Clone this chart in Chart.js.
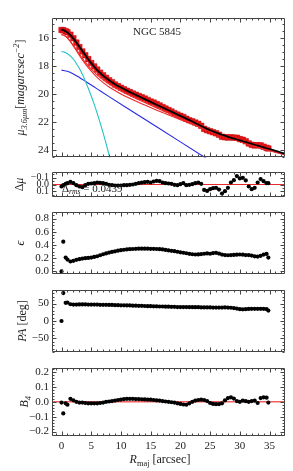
<!DOCTYPE html>
<html>
<head>
<meta charset="utf-8">
<script src="https://cdn.jsdelivr.net/npm/chart.js@4.4.0/dist/chart.umd.min.js"></script>
<style>
  html, body { margin: 0; padding: 0; background: #fff; }
  #wrap { position: relative; width: 293px; height: 471px; overflow: hidden; }
  canvas { position: absolute; left: 0; }
</style>
</head>
<body>
<div id="wrap">
  <canvas id="pMu"></canvas>
  <canvas id="pDmu"></canvas>
  <canvas id="pEll"></canvas>
  <canvas id="pPa"></canvas>
  <canvas id="pB4"></canvas>
</div>
<script>
// isophote radii (arcsec), shared by every panel
const R = [
  0, 0.3, 0.7, 1.0, 1.5, 2.0, 2.5, 3.0, 3.5, 4.0,
  4.5, 5.0, 5.5, 6.0, 6.5, 7.0, 7.5, 8.0, 8.5, 9.0,
  9.5, 10.0, 10.5, 11.0, 11.5, 12.0, 12.5, 13.0, 13.5, 14.0,
  14.5, 15.0, 15.5, 16.0, 16.5, 17.0, 17.5, 18.0, 18.5, 19.0,
  19.5, 20.0, 20.5, 21.0, 21.5, 22.0, 22.5, 23.0, 23.5, 24.0,
  24.5, 25.0, 25.5, 26.0, 26.5, 27.0, 27.5, 28.0, 28.5, 29.0,
  29.5, 30.0, 30.5, 31.0, 31.5, 32.0, 32.5, 33.0, 33.5, 34.0,
  34.5, 34.8
];
// observed surface brightness
const muData = [
  15.41, 15.42, 15.49, 15.56, 15.74, 16.00, 16.31, 16.63, 16.94, 17.21,
  17.49, 17.77, 18.01, 18.24, 18.46, 18.65, 18.83, 19.00, 19.15, 19.30,
  19.42, 19.54, 19.64, 19.75, 19.85, 19.95, 20.04, 20.13, 20.22, 20.31,
  20.41, 20.52, 20.60, 20.70, 20.80, 20.92, 21.03, 21.13, 21.24, 21.36,
  21.46, 21.55, 21.63, 21.76, 21.86, 21.94, 22.03, 22.12, 22.26, 22.48,
  22.58, 22.65, 22.72, 22.80, 22.90, 23.04, 23.08, 23.10, 23.08, 23.11,
  23.11, 23.21, 23.26, 23.37, 23.52, 23.62, 23.66, 23.65, 23.66, 23.75,
  23.84, 23.88
];
// residuals
const dMu = [
  0.03, 0.01, -0.01, -0.02, -0.04, -0.02, 0.01, 0.03, 0.04, 0.01,
  -0.01, -0.015, -0.02, -0.03, -0.025, -0.02, -0.01, 0.005, 0.01, 0.015,
  0.015, 0.015, 0.01, 0.01, 0.005, 0.0, -0.01, -0.02, -0.03, -0.035,
  -0.04, -0.03, -0.045, -0.055, -0.05, -0.03, -0.02, -0.015, -0.01, 0.005,
  0.01, -0.005, -0.02, 0.01, 0.005, -0.005, -0.02, -0.03, -0.01, 0.08,
  0.095, 0.07, 0.055, 0.05, 0.075, 0.135, 0.1, 0.05, -0.03, -0.065,
  -0.125, -0.09, -0.1, -0.06, 0.03, 0.07, 0.05, -0.03, -0.08, -0.05,
  -0.02, -0.02
];
// ellipticity
const ell = [
  0.0, 0.45, 0.21, 0.18, 0.15, 0.16, 0.175, 0.185, 0.195, 0.2,
  0.205, 0.21, 0.22, 0.23, 0.245, 0.26, 0.272, 0.285, 0.295, 0.305,
  0.315, 0.322, 0.328, 0.333, 0.337, 0.34, 0.342, 0.344, 0.345, 0.345,
  0.344, 0.343, 0.342, 0.34, 0.337, 0.333, 0.326, 0.318, 0.312, 0.306,
  0.298, 0.29, 0.283, 0.275, 0.266, 0.26, 0.256, 0.258, 0.263, 0.268,
  0.272, 0.268, 0.278, 0.282, 0.27, 0.255, 0.247, 0.245, 0.248, 0.25,
  0.253, 0.256, 0.254, 0.248, 0.248, 0.24, 0.228, 0.225, 0.236, 0.255,
  0.265, 0.21
];
// position angle (deg)
const pa = [
  0, 80, 52, 53, 48, 47, 47, 47.5, 47.5, 47.5,
  47, 47, 47, 47, 46.5, 46.5, 46.5, 46, 46, 45.5,
  45.5, 45, 45, 44.5, 44.5, 44, 44, 43.5, 43.5, 43,
  42.5, 42.5, 42, 42, 41.5, 41.5, 41, 41, 40.5, 40.5,
  40, 40, 40, 40, 39.5, 39.5, 39.5, 39.5, 39, 39,
  39, 39, 38.5, 38.5, 38.5, 38.5, 39, 38.5, 38, 37,
  35.5, 34, 33.5, 34, 34.5, 35, 35, 35, 35, 35,
  34, 30
];
// fourth harmonic B4
const b4 = [
  -0.005, -0.078, -0.01, -0.02, 0.02, 0.01, 0.0, -0.005, -0.005, -0.008,
  -0.01, -0.01, -0.01, -0.01, -0.008, -0.005, 0.0, 0.002, 0.005, 0.008,
  0.012, 0.015, 0.018, 0.02, 0.02, 0.02, 0.018, 0.018, 0.017, 0.016,
  0.015, 0.014, 0.012, 0.01, 0.008, 0.005, 0.002, 0.0, -0.003, -0.005,
  -0.01, -0.014, -0.018, -0.02, -0.01, 0.0, 0.008, 0.012, 0.014, 0.012,
  0.005, -0.008, -0.014, -0.016, -0.015, -0.01, 0.01, 0.025, 0.03, 0.022,
  0.005, 0.0, 0.008, 0.004, 0.0, 0.005, 0.008, -0.008, 0.025, 0.03,
  0.028, -0.005
];

// total model (black)
const modelR  = [0, 0.5, 1, 1.5, 2, 2.5, 3, 3.5, 4, 4.5, 5, 5.5, 6, 6.5, 7, 7.5, 8, 9, 10, 11,
                 12, 13, 14, 15, 16, 17, 18, 19, 20, 21, 22, 23, 24, 25, 26, 27, 28, 29, 30, 31,
                 32, 33, 34, 35, 36, 37, 37.6];
const modelMu = [15.38, 15.45, 15.58, 15.78, 16.02, 16.30, 16.60, 16.90, 17.20, 17.50,
                 17.78, 18.03, 18.27, 18.48, 18.67, 18.84, 19.00, 19.28, 19.52, 19.74,
                 19.95, 20.15, 20.35, 20.55, 20.75, 20.95, 21.15, 21.35, 21.55, 21.75,
                 21.95, 22.17, 22.38, 22.58, 22.75, 22.90, 23.05, 23.18, 23.30, 23.43,
                 23.55, 23.68, 23.80, 23.93, 24.05, 24.18, 24.26];
// red model curves
const redR   = [0, 0.5, 1, 1.5, 2, 3, 4, 5, 6, 7, 8, 10, 12, 14, 16, 18, 20, 22, 24, 26, 28, 30, 32, 34, 36, 37.6];
const red1Mu = [15.72, 15.80, 15.97, 16.22, 16.50, 17.12, 17.70, 18.20, 18.62, 18.97, 19.27, 19.77, 20.20,
                20.60, 20.98, 21.35, 21.72, 22.07, 22.42, 22.75, 23.07, 23.37, 23.65, 23.90, 24.14, 24.32];
const red2Mu = [15.72, 15.80, 15.98, 16.25, 16.56, 17.22, 17.83, 18.35, 18.80, 19.17, 19.48, 19.98, 20.40,
                20.78, 21.14, 21.48, 21.82, 22.15, 22.48, 22.80, 23.10, 23.39, 23.66, 23.92, 24.16, 24.34];
// bulge (cyan) and disc (blue)
const cyanR  = [0, 0.5, 1, 1.5, 2, 2.5, 3, 3.5, 4, 4.5, 5, 5.5, 6, 6.5, 7, 7.5, 8, 8.5];
const cyanMu = [16.95, 16.99, 17.10, 17.27, 17.50, 17.80, 18.15, 18.58, 19.05, 19.57,
                20.13, 20.73, 21.37, 22.05, 22.77, 23.53, 24.33, 25.17];
const blueR  = [0, 1, 2, 3, 4, 6, 8, 12, 16, 20, 24, 26];
const blueMu = [18.28, 18.36, 18.55, 18.80, 19.07, 19.62, 20.17, 21.25, 22.33, 23.41, 24.49, 25.03];

// tick labels
const xTicks   = [0, 5, 10, 15, 20, 25, 30, 35];
const muTicks  = [16, 18, 20, 22, 24];
const dMuTicks = [-0.1, 0.0, 0.1];
const ellTicks = [0.0, 0.2, 0.4, 0.6, 0.8];
const paTicks  = [-50, 0, 50];
const b4Ticks  = [-0.2, -0.1, 0.0, 0.1, 0.2];

const FONT = '"Liberation Serif", "DejaVu Serif", serif';
const INK = '#222';
const pts = (xs, ys) => xs.map((x, i) => ({ x, y: ys[i] }));
const minus = s => String(s).replace('-', '\u2212');
const fmt1 = v => minus(Math.abs(v) < 1e-9 ? '0.0' : v.toFixed(1));
const fmt0 = v => minus(Math.round(v));

// rich text: segments with italic / sub / sup
function drawRich(ctx, segs, cx, cy, rot, size, align) {
  ctx.save();
  ctx.translate(cx, cy);
  ctx.rotate(rot);
  let total = 0;
  const items = segs.map(s => {
    const fs = (s.sub || s.sup) ? size * 0.7 : size;
    const font = (s.i ? 'italic ' : '') + fs + 'px ' + FONT;
    ctx.font = font;
    const w = ctx.measureText(s.t).width;
    total += w;
    return Object.assign({}, s, { font, w });
  });
  let x = align === 'left' ? 0 : -total / 2;
  ctx.fillStyle = INK;
  ctx.textBaseline = 'alphabetic';
  const base = size * 0.33;
  items.forEach(it => {
    ctx.font = it.font;
    const dy = it.sub ? size * 0.25 : it.sup ? -size * 0.42 : 0;
    ctx.fillText(it.t, x, base + dy);
    x += it.w;
  });
  ctx.restore();
}

// frame, inward ticks, zero line and labels
function makeDeco(o) {
  return {
    id: 'deco',
    beforeDatasetsDraw(chart) {
      if (!o.zero) return;
      const { ctx, chartArea: a, scales: { y } } = chart;
      const py = y.getPixelForValue(0);
      ctx.save();
      ctx.strokeStyle = o.zero;
      ctx.lineWidth = o.zeroWidth || 1;
      ctx.beginPath();
      ctx.moveTo(a.left, py);
      ctx.lineTo(a.right, py);
      ctx.stroke();
      ctx.restore();
    },
    afterDatasetsDraw(chart) {
      const { ctx, chartArea: a, scales: { x, y } } = chart;
      const l = Math.round(a.left) + 0.5, r = Math.round(a.right) - 0.5;
      const t = Math.round(a.top) + 0.5, b = Math.round(a.bottom) - 0.5;
      ctx.save();
      ctx.strokeStyle = '#444';
      ctx.lineWidth = 1;
      ctx.beginPath();
      ctx.rect(l, t, r - l, b - t);
      const steps = (s, minor, major, fn) => {
        const lo = Math.min(s.min, s.max), hi = Math.max(s.min, s.max);
        for (let n = Math.ceil(lo / minor - 1e-9); n * minor <= hi + 1e-9; n++) {
          const v = n * minor, q = v / major;
          fn(s.getPixelForValue(v), Math.abs(q - Math.round(q)) < 1e-6 ? 4 : 2);
        }
      };
      steps(x, 1, 5, (p, L) => {
        p = Math.round(p) + 0.5;
        ctx.moveTo(p, t); ctx.lineTo(p, t + L);
        ctx.moveTo(p, b); ctx.lineTo(p, b - L);
      });
      steps(y, o.yMinor, o.yMajor, (p, L) => {
        p = Math.round(p) + 0.5;
        ctx.moveTo(l, p); ctx.lineTo(l + L, p);
        ctx.moveTo(r, p); ctx.lineTo(r - L, p);
      });
      ctx.stroke();
      ctx.restore();
    },
    afterDraw(chart) {
      const a = chart.chartArea;
      (o.texts || []).forEach(tx => {
        const p = tx.at(a);
        drawRich(chart.ctx, tx.segs, p.x, p.y, tx.rot || 0, tx.size, tx.align);
      });
    }
  };
}

function xScale(show) {
  return {
    type: 'linear', min: -1.6, max: 37.6, display: show,
    afterBuildTicks: s => { s.ticks = xTicks.map(v => ({ value: v })); },
    afterFit: s => { if (show) s.height = 35; },
    ticks: { font: { family: FONT, size: 11 }, color: INK, padding: 4, maxRotation: 0, autoSkip: false },
    grid: { display: false, drawTicks: false },
    border: { display: false }
  };
}

function yScale(min, max, reverse, ticks, fmt, size) {
  return {
    type: 'linear', min, max, reverse,
    afterBuildTicks: s => { s.ticks = ticks.map(v => ({ value: v })); },
    afterFit: s => { s.width = 52; },
    ticks: { font: { family: FONT, size: size || 11 }, color: INK, padding: 3, autoSkip: false, callback: fmt },
    grid: { display: false, drawTicks: false },
    border: { display: false }
  };
}

function panel(id, top, h, padBottom, datasets, y, deco, showX) {
  const cv = document.getElementById(id);
  cv.width = 293; cv.height = h;
  cv.style.width = '293px'; cv.style.height = h + 'px';
  cv.style.top = top + 'px';
  return new Chart(cv, {
    type: 'scatter',
    data: { datasets },
    options: {
      responsive: false, animation: false, devicePixelRatio: 1,
      layout: { padding: { top: 2, bottom: padBottom, left: 0, right: 8 } },
      plugins: { legend: { display: false }, tooltip: { enabled: false } },
      scales: { x: xScale(showX), y }
    },
    plugins: [makeDeco(deco)]
  });
}

const line = (xs, ys, color, w) => ({
  data: pts(xs, ys), showLine: true, borderColor: color, borderWidth: w,
  pointRadius: 0, cubicInterpolationMode: 'monotone'
});
const dots = ys => ({
  data: pts(R, ys), pointRadius: 2.1, backgroundColor: '#000', borderWidth: 0
});

const yLab = (segs, x) => ({ segs, size: 12, rot: -Math.PI / 2, at: a => ({ x, y: (a.top + a.bottom) / 2 }) });

// surface brightness profile
panel('pMu', 8, 159, 2, [
  line(modelR, modelMu, '#000', 1.8),
  line(cyanR, cyanMu, '#22c4c8', 1.1),
  line(blueR, blueMu, '#2a2ae6', 1.1),
  line(redR, red1Mu, '#f02828', 1.1),
  line(redR, red2Mu, '#f02828', 1.1),
  { data: pts(R, muData), pointStyle: 'rect', pointRadius: 3.9,
    backgroundColor: '#e8181c', borderColor: '#c40000', borderWidth: 0.5 }
], yScale(14.52, 24.52, true, muTicks, fmt0), {
  yMinor: 0.5, yMajor: 2,
  texts: [
    yLab([{ t: '\u03bc', i: 1 }, { t: '3.6\u03bcm', i: 1, sub: 1 }, { t: '[' },
          { t: 'magarcsec', i: 1 }, { t: '\u22122', i: 1, sup: 1 }, { t: ']' }], 20),
    { segs: [{ t: 'NGC 5845' }], size: 11, at: a => ({ x: 157, y: a.top + 14 }) }
  ]
}, false);

// residuals
panel('pDmu', 163, 43, 2, [dots(dMu)],
  yScale(-0.186, 0.186, true, dMuTicks, fmt1, 10), {
  yMinor: 0.05, yMajor: 0.1, zero: '#e8282c', zeroWidth: 1,
  texts: [
    yLab([{ t: '\u0394' }, { t: '\u03bc', i: 1 }], 19),
    { segs: [{ t: '\u0394' }, { t: 'rms', i: 1, sub: 1 }, { t: ' = 0.0439' }], size: 11, align: 'left',
      at: a => ({ x: 62, y: a.bottom - 9 }) }
  ]
}, false);

// ellipticity
panel('pEll', 202, 82, 2, [dots(ell)],
  yScale(-0.045, 0.906, false, ellTicks, fmt1), {
  yMinor: 0.05, yMajor: 0.2,
  texts: [yLab([{ t: '\u03f5', i: 1 }], 20)]
}, false);

// position angle
panel('pPa', 280, 82, 2, [dots(pa)],
  yScale(-90, 90, false, paTicks, fmt0), {
  yMinor: 10, yMajor: 50,
  texts: [yLab([{ t: 'PA', i: 1 }, { t: ' [deg]' }], 22)]
}, false);

// B4
panel('pB4', 358, 113, 0, [dots(b4)],
  yScale(-0.23, 0.23, false, b4Ticks, fmt1), {
  yMinor: 0.02, yMajor: 0.1, zero: '#f06060', zeroWidth: 1.4,
  texts: [
    yLab([{ t: 'B', i: 1 }, { t: '4', i: 1, sub: 1 }], 24),
    { segs: [{ t: 'R', i: 1 }, { t: 'maj', sub: 1 }, { t: ' [arcsec]' }], size: 12,
      at: a => ({ x: 160, y: a.bottom + 23 }) }
  ]
}, true);
</script>
</body>
</html>
